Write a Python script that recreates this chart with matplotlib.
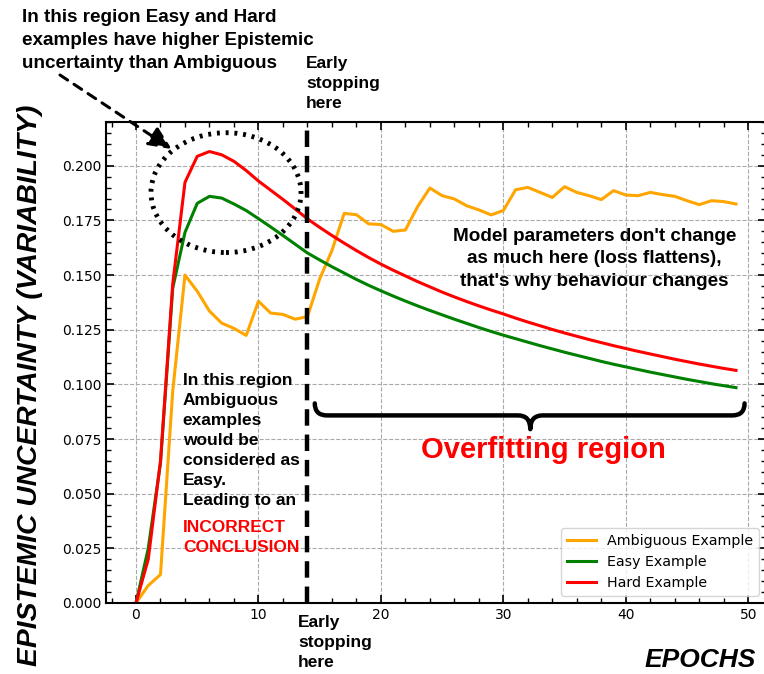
import matplotlib
matplotlib.use("Agg")
import matplotlib.pyplot as plt
from matplotlib.patches import Ellipse, PathPatch
from matplotlib.path import Path
from matplotlib.ticker import MultipleLocator

# Per-epoch variability of the three tracked examples
epochs = list(range(50))

ambiguous = [0.000, 0.008, 0.013, 0.097, 0.150, 0.1426, 0.1335, 0.128, 0.1256, 0.1224,
             0.138, 0.1326, 0.132, 0.1298, 0.131, 0.1482, 0.1612, 0.1782, 0.1776, 0.1734,
             0.1731, 0.170, 0.1706, 0.1813, 0.1898, 0.1863, 0.1848, 0.1817, 0.1798, 0.1775,
             0.1795, 0.189, 0.1901, 0.1878, 0.1855, 0.1904, 0.1878, 0.1863, 0.1845, 0.1886,
             0.1866, 0.1863, 0.1878, 0.1868, 0.186, 0.184, 0.1822, 0.184, 0.1836, 0.1825]

easy = [0.000, 0.025, 0.064, 0.144, 0.1695, 0.1828, 0.186, 0.1852, 0.1825, 0.1795,
        0.1758, 0.1720, 0.1681, 0.1641, 0.1601, 0.1569, 0.1538, 0.1509, 0.1480, 0.1453,
        0.1428, 0.1404, 0.1381, 0.1359, 0.1338, 0.1318, 0.1298, 0.1279, 0.1260, 0.1242,
        0.1225, 0.1209, 0.1193, 0.1177, 0.1162, 0.1147, 0.1133, 0.1119, 0.1105, 0.1092,
        0.1080, 0.1068, 0.1056, 0.1045, 0.1034, 0.1023, 0.1013, 0.1003, 0.0994, 0.0985]

hard = [0.000, 0.020, 0.065, 0.146, 0.1924, 0.2043, 0.2065, 0.205, 0.2020, 0.1978,
        0.1930, 0.1888, 0.1846, 0.1802, 0.1757, 0.1718, 0.1681, 0.1646, 0.1612, 0.1580,
        0.1550, 0.1522, 0.1496, 0.1470, 0.1446, 0.1422, 0.1400, 0.1379, 0.1359, 0.1340,
        0.1322, 0.1303, 0.1285, 0.1268, 0.1251, 0.1235, 0.1220, 0.1205, 0.1191, 0.1177,
        0.1164, 0.1151, 0.1139, 0.1127, 0.1115, 0.1104, 0.1093, 0.1083, 0.1073, 0.1064]

series_labels = ["Ambiguous Example", "Easy Example", "Hard Example"]
series_colors = ["orange", "green", "red"]

early_stop_epoch = 14

ANNOT_FONT = ["Liberation Sans", "DejaVu Sans"]
LS = 1.42  # line spacing of the annotation blocks

fig = plt.figure(figsize=(7.64, 6.74), dpi=100)
W, H = 764.0, 674.0
ax = fig.add_axes([106 / W, 1 - 603 / H, 660 / W, (603 - 122) / H])

for vals, lab, col in zip([ambiguous, easy, hard], series_labels, series_colors):
    ax.plot(epochs, vals, color=col, lw=2.2, label=lab)

ax.set_xlim(-2.45, 51.45)
ax.set_ylim(0, 0.22)
ax.xaxis.set_major_locator(MultipleLocator(10))
ax.xaxis.set_minor_locator(MultipleLocator(2))
ax.yaxis.set_major_locator(MultipleLocator(0.025))
ax.yaxis.set_minor_locator(MultipleLocator(0.005))
ax.tick_params(which="both", direction="in", top=True, right=True, labelsize=10)
ax.tick_params(which="major", length=6, width=1.2)
ax.tick_params(which="minor", length=3.5, width=1.0)
for sp in ax.spines.values():
    sp.set_linewidth(1.5)
ax.grid(True, which="major", linestyle="--", color="#aaaaaa", lw=0.8)
ax.set_axisbelow(True)

ax.set_xlabel("EPOCHS", fontsize=19, fontweight="bold", fontstyle="italic",
              family=ANNOT_FONT, loc="right")
ax.xaxis.set_label_coords(0.984, -0.094)
ax.set_ylabel("EPISTEMIC UNCERTAINTY (VARIABILITY)", fontsize=20.3, fontweight="bold",
              fontstyle="italic", family=ANNOT_FONT)
ax.yaxis.set_label_coords(-0.0955, 0.453)

leg = ax.legend(loc="lower right", fontsize=10.3, fancybox=True)

# Early stopping marker
ax.axvline(early_stop_epoch, color="black", lw=3.2, dashes=(3.7, 2.0), clip_on=False, zorder=5)

txt_kw = dict(fontweight="bold", family=ANNOT_FONT)
fig.text(306 / W, 1 - 56 / H, "Early\nstopping\nhere", fontsize=12.5, va="top", ha="left",
         linespacing=LS, **txt_kw)
fig.text(298 / W, 1 - 615 / H, "Early\nstopping\nhere", fontsize=12.5, va="top", ha="left",
         linespacing=LS, **txt_kw)

# Region of higher epistemic uncertainty for easy/hard examples
ax.add_patch(Ellipse((7.35, 0.1877), 12.25, 0.0548, fill=False, ec="black",
                     lw=3.5, linestyle=(0, (0.6, 1.2)), clip_on=False, zorder=6))
fig.text(22 / W, 1 - 9 / H,
         "In this region Easy and Hard\nexamples have higher Epistemic\nuncertainty than Ambiguous",
         fontsize=13.6, va="top", ha="left", linespacing=1.46, **txt_kw)
ax.annotate("", xy=(2.92, 0.2076), xycoords="data",
            xytext=(60 / W, 1 - 75 / H), textcoords="figure fraction",
            arrowprops=dict(arrowstyle="-|>,head_length=1.0,head_width=0.45", color="black",
                            lw=2.2, linestyle=(0, (3, 2.5)), mutation_scale=14,
                            shrinkA=0, shrinkB=0),
            annotation_clip=False)

# Left-region explanation
left_x, left_top = 3.82, 0.1052
ax.text(left_x, left_top,
        "In this region\nAmbiguous\nexamples\nwould be\nconsidered as\nEasy.\nLeading to an",
        fontsize=12.5, va="top", ha="left", linespacing=LS, **txt_kw)
ax.annotate("INCORRECT\nCONCLUSION", xy=(left_x, left_top), xycoords="data",
            xytext=(0, -7 * 21), textcoords="offset pixels", color="red",
            fontsize=12.5, va="top", ha="left", linespacing=LS, **txt_kw)

ax.text(37.46, 0.1575,
        "Model parameters don't change\nas much here (loss flattens),\nthat's why behaviour changes",
        fontsize=13.6, va="center", ha="center", multialignment="center",
        linespacing=LS, **txt_kw)

# Curly brace over the overfitting epochs
x0, x1, xm = 14.6, 49.7, 32.2
y_end, y_bar, y_tip = 0.0913, 0.0858, 0.0795
r = 1.0
verts = [(x0, y_end), (x0, y_bar), (x0 + r, y_bar),
         (xm - r, y_bar), (xm, y_bar), (xm, y_tip),
         (xm, y_bar), (xm + r, y_bar),
         (x1 - r, y_bar), (x1, y_bar), (x1, y_end)]
codes = [Path.MOVETO, Path.CURVE3, Path.CURVE3,
         Path.LINETO, Path.CURVE3, Path.CURVE3,
         Path.CURVE3, Path.CURVE3,
         Path.LINETO, Path.CURVE3, Path.CURVE3]
ax.add_patch(PathPatch(Path(verts, codes), fill=False, lw=3.2, ec="black",
                       capstyle="round", joinstyle="round", zorder=6))

ax.text(33.3, 0.0699, "Overfitting region", color="red", fontsize=21,
        va="center", ha="center", **txt_kw)

fig.savefig("out.png", dpi=100)
